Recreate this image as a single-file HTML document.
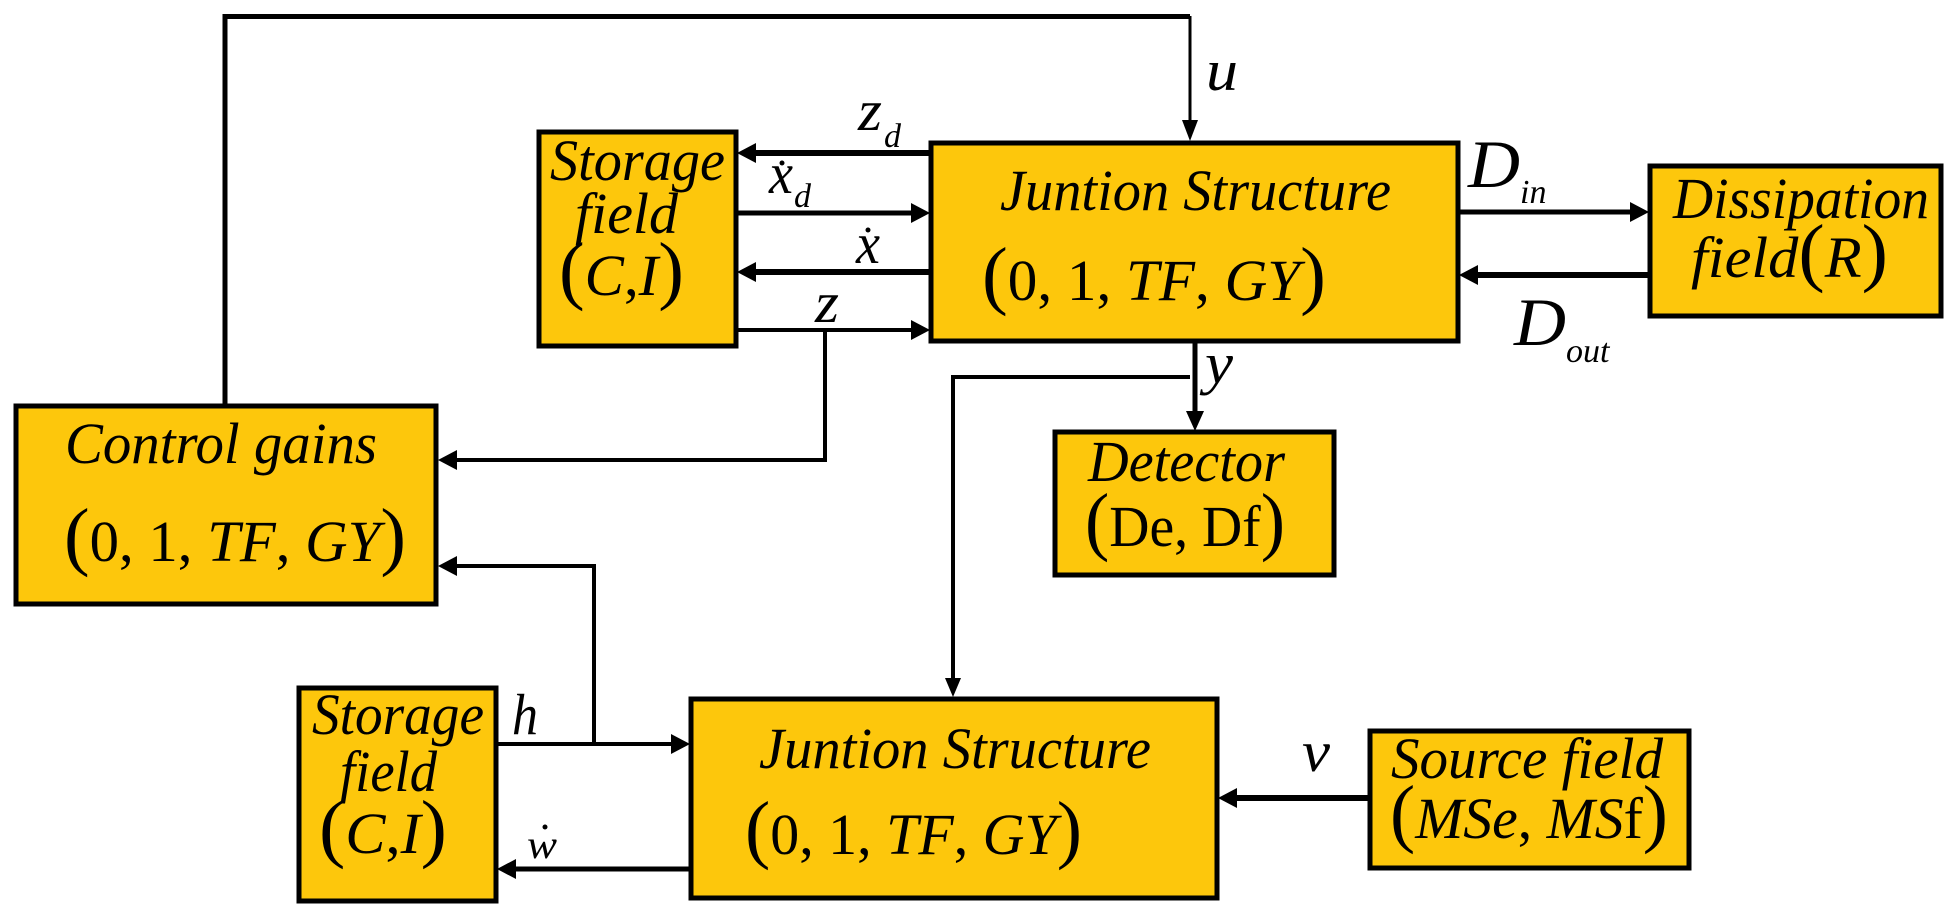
<!DOCTYPE html>
<html><head><meta charset="utf-8"><style>
html,body{margin:0;padding:0;background:#fff;}
svg{display:block}
text{font-family:"Liberation Serif","Times New Roman",serif;font-style:italic;fill:#000}
.u{font-style:normal}
</style></head><body>
<svg width="1958" height="912" viewBox="0 0 1958 912" xmlns="http://www.w3.org/2000/svg">
<g fill="#FDC70C" stroke="#000" stroke-width="5">
<rect x="539" y="132" width="197" height="214"/>
<rect x="931" y="143" width="527" height="198"/>
<rect x="1650" y="166" width="291" height="150"/>
<rect x="16" y="406" width="420" height="198"/>
<rect x="1055" y="432" width="279" height="143"/>
<rect x="299" y="688" width="197" height="213"/>
<rect x="691" y="699" width="526" height="199"/>
<rect x="1370" y="731" width="319" height="137"/>
</g>
<g stroke="#000" fill="none">
<polyline points="225,406 225,16.5 1190,16.5" stroke-width="5"/>
<line x1="1190" y1="16" x2="1190" y2="125" stroke-width="3"/>
<line x1="931" y1="153" x2="752" y2="153" stroke-width="6"/>
<line x1="736" y1="213" x2="915" y2="213" stroke-width="5"/>
<line x1="931" y1="272" x2="752" y2="272" stroke-width="6"/>
<line x1="736" y1="330" x2="915" y2="330" stroke-width="4"/>
<polyline points="825,330 825,460 452,460" stroke-width="4"/>
<line x1="1458" y1="212" x2="1634" y2="212" stroke-width="5"/>
<line x1="1650" y1="275" x2="1474" y2="275" stroke-width="6"/>
<line x1="1195" y1="341" x2="1195" y2="416" stroke-width="5"/>
<polyline points="1190,377 953,377 953,682" stroke-width="4"/>
<polyline points="594,744 594,566 452,566" stroke-width="4"/>
<line x1="496" y1="744" x2="675" y2="744" stroke-width="4"/>
<line x1="691" y1="869" x2="512" y2="869" stroke-width="5"/>
<line x1="1370" y1="798" x2="1233" y2="798" stroke-width="6"/>
</g>
<g fill="#000">
<polygon points="1190,141 1182,120 1198,120"/>
<polygon points="737,153 756,143 756,163"/>
<polygon points="930,213 911,203 911,223"/>
<polygon points="737,272 756,262 756,282"/>
<polygon points="930,330 911,320 911,340"/>
<polygon points="438,460 457,450 457,470"/>
<polygon points="1649,212 1630,202 1630,222"/>
<polygon points="1459,275 1478,265 1478,285"/>
<polygon points="1195,431 1186,411 1204,411"/>
<polygon points="953,697 945,678 961,678"/>
<polygon points="438,566 457,556 457,576"/>
<polygon points="690,744 671,734 671,754"/>
<polygon points="497,869 516,859 516,879"/>
<polygon points="1218,798 1237,788 1237,808"/>
<circle cx="782" cy="163" r="2.5"/>
<circle cx="868" cy="230" r="2.5"/>
<circle cx="545" cy="827" r="2.5"/>
</g>
<g font-size="58">
<text x="1000" y="210" textLength="391" lengthAdjust="spacingAndGlyphs">Juntion Structure</text>
<text x="982" y="300" textLength="344" lengthAdjust="spacingAndGlyphs"><tspan class="u" font-size="76">(</tspan><tspan class="u">0, 1, </tspan>TF<tspan class="u">, </tspan>GY<tspan class="u" font-size="76">)</tspan></text>
<text x="550" y="180" textLength="175" lengthAdjust="spacingAndGlyphs">Storage</text>
<text x="575" y="233" textLength="103" lengthAdjust="spacingAndGlyphs">field</text>
<text x="559" y="295" textLength="125" lengthAdjust="spacingAndGlyphs"><tspan class="u" font-size="76">(</tspan>C<tspan class="u">,</tspan>I<tspan class="u" font-size="76">)</tspan></text>
<text x="1673" y="218" textLength="256" lengthAdjust="spacingAndGlyphs">Dissipation</text>
<text x="1691" y="277" textLength="197" lengthAdjust="spacingAndGlyphs">field<tspan class="u" font-size="76">(</tspan>R<tspan class="u" font-size="76">)</tspan></text>
<text x="65" y="463" textLength="312" lengthAdjust="spacingAndGlyphs">Control gains</text>
<text x="64" y="561" textLength="342" lengthAdjust="spacingAndGlyphs"><tspan class="u" font-size="76">(</tspan><tspan class="u">0, 1, </tspan>TF<tspan class="u">, </tspan>GY<tspan class="u" font-size="76">)</tspan></text>
<text x="1088" y="481" textLength="197" lengthAdjust="spacingAndGlyphs">Detector</text>
<text x="1085" y="546" textLength="200" lengthAdjust="spacingAndGlyphs" class="u"><tspan font-size="76">(</tspan>De, Df<tspan font-size="76">)</tspan></text>
<text x="312" y="734" textLength="172" lengthAdjust="spacingAndGlyphs">Storage</text>
<text x="340" y="791" textLength="97" lengthAdjust="spacingAndGlyphs">field</text>
<text x="319" y="853" textLength="128" lengthAdjust="spacingAndGlyphs"><tspan class="u" font-size="76">(</tspan>C<tspan class="u">,</tspan>I<tspan class="u" font-size="76">)</tspan></text>
<text x="759" y="768" textLength="392" lengthAdjust="spacingAndGlyphs">Juntion Structure</text>
<text x="745" y="854" textLength="337" lengthAdjust="spacingAndGlyphs"><tspan class="u" font-size="76">(</tspan><tspan class="u">0, 1, </tspan>TF<tspan class="u">, </tspan>GY<tspan class="u" font-size="76">)</tspan></text>
<text x="1391" y="778" textLength="272" lengthAdjust="spacingAndGlyphs">Source field</text>
<text x="1390" y="838" textLength="278" lengthAdjust="spacingAndGlyphs"><tspan class="u" font-size="76">(</tspan>MSe<tspan class="u">, </tspan>MS<tspan class="u">f</tspan><tspan class="u" font-size="76">)</tspan></text>
</g>
<g font-size="58">
<text x="1206" y="90" textLength="32" lengthAdjust="spacingAndGlyphs">u</text>
<text x="858" y="130" textLength="24" lengthAdjust="spacingAndGlyphs">z</text><text x="884" y="147" font-size="34">d</text>
<text x="769" y="193" textLength="24" lengthAdjust="spacingAndGlyphs">x</text><text x="794" y="207" font-size="34">d</text>
<text x="856" y="263" textLength="24" lengthAdjust="spacingAndGlyphs">x</text>
<text x="815" y="322" textLength="24" lengthAdjust="spacingAndGlyphs">z</text>
<text x="1468" y="187" font-size="68" textLength="52" lengthAdjust="spacingAndGlyphs">D</text><text x="1520" y="203" font-size="34">in</text>
<text x="1514" y="345" font-size="68" textLength="52" lengthAdjust="spacingAndGlyphs">D</text><text x="1566" y="362" font-size="34">out</text>
<text x="1205" y="383" textLength="28" lengthAdjust="spacingAndGlyphs">y</text>
<text x="512" y="734" textLength="26" lengthAdjust="spacingAndGlyphs">h</text>
<text x="527" y="858" font-size="40" textLength="30" lengthAdjust="spacingAndGlyphs">w</text>
<text x="1302" y="771" textLength="28" lengthAdjust="spacingAndGlyphs">v</text>
</g>
</svg>
</body></html>
